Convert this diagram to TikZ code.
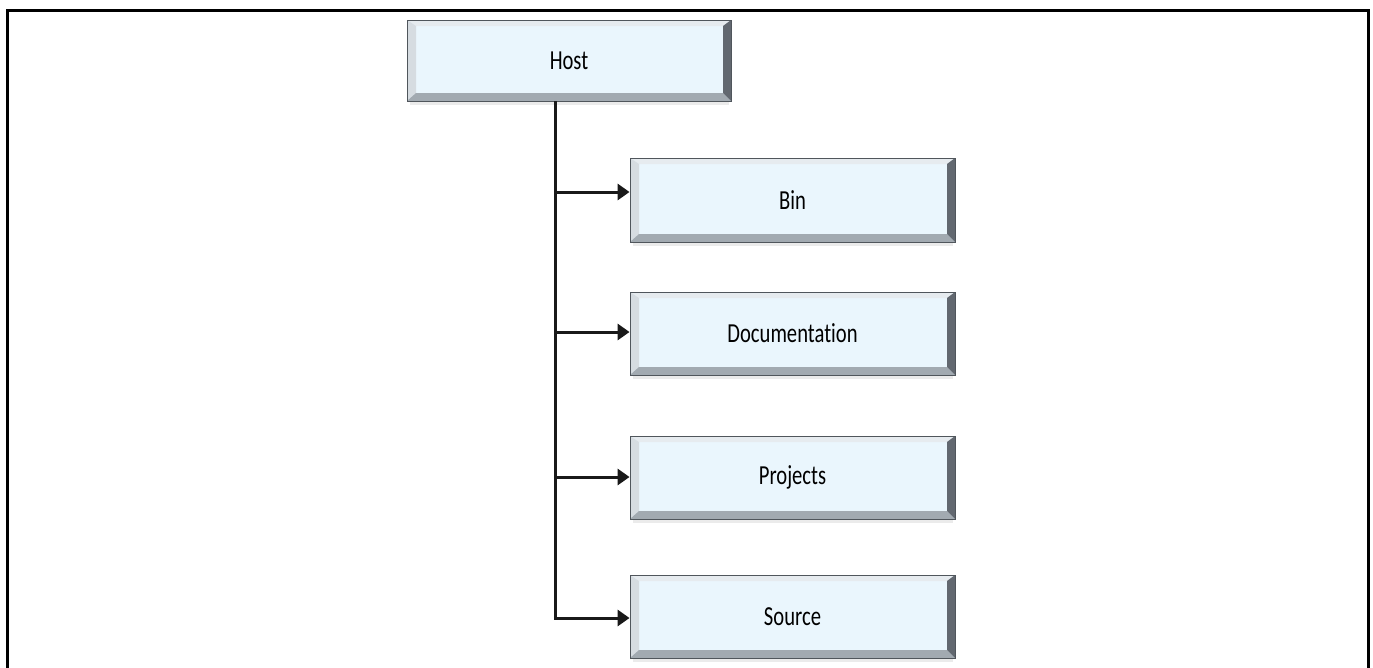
\documentclass[tikz,border=0pt]{standalone}
\usepackage{fontspec}
\setmainfont[Ligatures=NoCommon]{Carlito}
\usetikzlibrary{arrows.meta,calc}
\definecolor{boxfill}{HTML}{EAF6FD}
\definecolor{bevtop}{HTML}{E6EBEF}
\definecolor{bevleft}{HTML}{D6DCE1}
\definecolor{bevright}{HTML}{626870}
\definecolor{bevbot}{HTML}{A2AAB1}
\definecolor{edgedark}{HTML}{50565C}
\tikzset{
  bevelbox/.style={
    minimum width=325pt, minimum height=83pt, inner sep=0pt,
    fill=boxfill, draw=edgedark, line width=0.9pt,
    font=\fontsize{27.5}{32}\selectfont,
    path picture={
      \coordinate (pa) at (path picture bounding box.south west);
      \coordinate (pb) at (path picture bounding box.north east);
      \coordinate (pc) at (path picture bounding box.north west);
      \coordinate (pd) at (path picture bounding box.south east);
      \fill[bevtop] (pc) -- (pb) -- ([shift={(-8pt,-6pt)}]pb) -- ([shift={(9pt,-6pt)}]pc) -- cycle;
      \fill[bevleft] (pc) -- (pa) -- ([shift={(9pt,8pt)}]pa) -- ([shift={(9pt,-6pt)}]pc) -- cycle;
      \fill[bevbot] (pa) -- (pd) -- ([shift={(-8pt,8pt)}]pd) -- ([shift={(9pt,8pt)}]pa) -- cycle;
      \fill[bevright] (pb) -- (pd) -- ([shift={(-8pt,8pt)}]pd) -- ([shift={(-8pt,-6pt)}]pb) -- cycle;
    }
  },
  shadowbox/.style={fill=black!8, draw=none},
  conn/.style={line width=3pt, draw=black!90},
  arr/.style={conn, -{Triangle[length=12pt,width=16pt]}},
  frame/.style={line width=3pt, draw=black, line cap=rect},
}
\newcommand{\lbl}[1]{\scalebox{0.75}[1]{#1}}
\begin{document}
\begin{tikzpicture}[x=1pt,y=-1pt]
\useasboundingbox (0,0) rectangle (1373,667);
\fill[white] (0,0) rectangle (1373,667);
% outer frame (no bottom edge)
\draw[frame] (7,667) -- (7,10) -- (1368,10) -- (1368,667);
% soft shadows under boxes
\fill[shadowbox] (410,101) rectangle (729,105);
\fill[shadowbox] (633,242) rectangle (953,246);
\fill[shadowbox] (633,375) rectangle (953,379);
\fill[shadowbox] (633,519) rectangle (953,523);
\fill[shadowbox] (633,658) rectangle (953,662);
% nodes
\node[bevelbox, minimum width=324pt, minimum height=81pt] (host) at (569,60.5) {\lbl{Host}};
\node[bevelbox, minimum height=84pt] (bin) at (792.5,200) {\lbl{Bin}};
\node[bevelbox] (doc) at (792.5,333.5) {\lbl{Documentation}};
\node[bevelbox] (proj) at (792.5,477.5) {\lbl{Projects}};
\node[bevelbox] (src) at (792.5,616.5) {\lbl{Source}};
% spine coordinates
\coordinate (s0) at (555,101);
\coordinate (s1) at (555,192);
\coordinate (s2) at (555,332);
\coordinate (s3) at (555,477);
\coordinate (s4) at (555,618);
\draw[conn] (s0) -- (s4);
\draw[arr] (s1) -- (bin.west |- s1);
\draw[arr] (s2) -- (doc.west |- s2);
\draw[arr] (s3) -- (proj.west |- s3);
\draw[arr, line join=miter] ([yshift=1.5pt]s4) -- (s4) -- (src.west |- s4);
\end{tikzpicture}
\end{document}
